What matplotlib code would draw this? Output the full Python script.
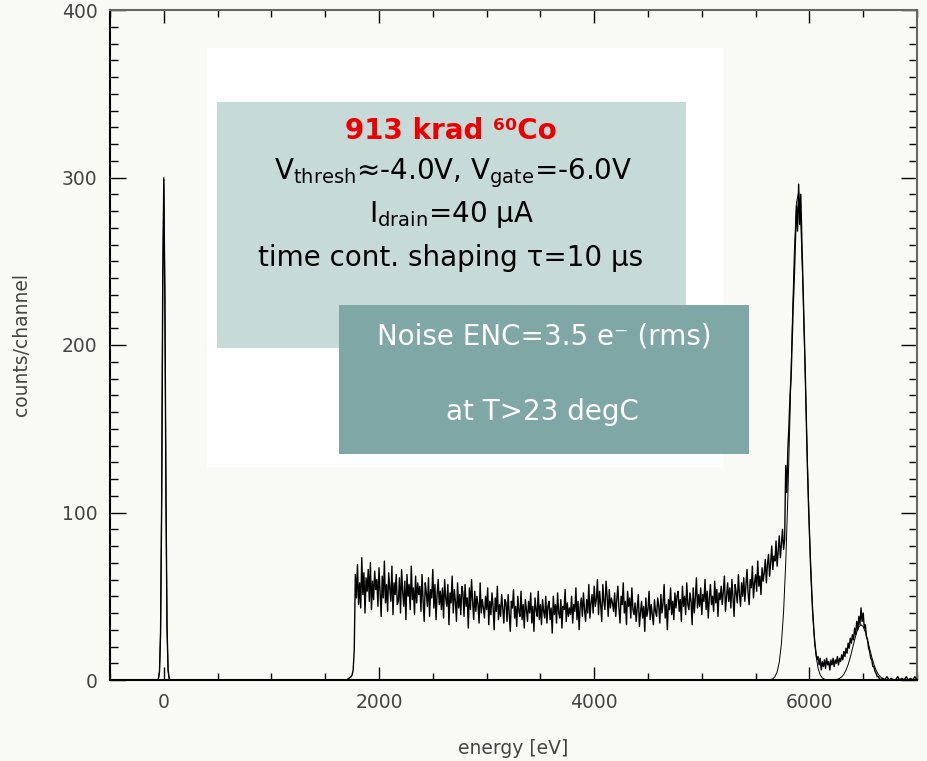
import numpy as np
import matplotlib
matplotlib.use('Agg')
import matplotlib.pyplot as plt
from matplotlib.patches import Rectangle
from matplotlib.ticker import MultipleLocator

plt.rcParams['font.family'] = ['DejaVu Sans']
plt.rcParams['mathtext.default'] = 'regular'

# ---- spectrum data (counts/channel vs energy in eV) ----
# pedestal / noise peak at 0 eV
zero_e = [-500, -60, -50, -40, -30, -20, -10, 0, 10, 20, 30, 40, 50, 60, 1700]
zero_counts = [0, 0, 1, 5, 28, 104, 236, 299, 228, 112, 31, 6, 1, 0, 0]

# shoulder onset near 1.75 keV
onset_e = [1720, 1740, 1750, 1760, 1770]
onset_counts = [1, 2, 3, 6, 18]

# flat shelf, 10 eV bins from 1780 to 5770 eV
shelf_start, shelf_step = 1780, 10
shelf_counts = [
    63, 49, 69, 45, 58, 43, 73, 51, 64, 40, 61, 53, 66, 47, 70, 42, 59, 48, 65, 54,
    60, 44, 67, 52, 38, 62, 49, 71, 46, 57, 41, 64, 55, 47, 68, 39, 58, 51, 63, 45,
    47, 61, 40, 66, 53, 44, 59, 36, 63, 50, 57, 42, 68, 48, 55, 39, 62, 46, 58, 51,
    56, 41, 63, 47, 35, 58, 52, 44, 61, 38, 54, 49, 66, 43, 57, 36, 51, 60, 45, 53,
    42, 55, 37, 60, 49, 44, 57, 33, 52, 46, 62, 40, 54, 47, 35, 58, 43, 51, 39, 56,
    52, 38, 57, 44, 49, 31, 55, 42, 60, 47, 36, 53, 41, 50, 45, 34, 58, 40, 48, 43,
    37, 50, 42, 55, 33, 47, 39, 52, 44, 30, 49, 41, 56, 36, 45, 38, 51, 43, 34, 48,
    46, 35, 51, 40, 29, 47, 43, 54, 37, 44, 32, 50, 41, 38, 53, 36, 45, 31, 48, 42,
    35, 47, 40, 52, 34, 44, 29, 49, 42, 38, 53, 36, 45, 33, 48, 41, 37, 50, 34, 44,
    47, 36, 43, 28, 50, 39, 45, 34, 52, 40, 37, 48, 31, 44, 42, 54, 35, 46, 38, 43,
    39, 50, 34, 45, 41, 55, 36, 47, 30, 44, 49, 38, 52, 42, 35, 48, 40, 57, 37, 46,
    51, 40, 56, 44, 48, 60, 39, 53, 45, 35, 57, 47, 42, 59, 50, 38, 54, 43, 49, 46,
    41, 52, 38, 48, 56, 43, 34, 50, 45, 58, 40, 47, 33, 53, 44, 49, 37, 55, 42, 39,
    46, 35, 43, 51, 32, 40, 47, 37, 44, 29, 49, 38, 42, 53, 36, 45, 39, 33, 48, 41,
    38, 49, 44, 34, 51, 40, 46, 57, 37, 45, 30, 48, 42, 55, 39, 47, 36, 52, 43, 50,
    53, 41, 48, 35, 56, 44, 50, 39, 58, 45, 42, 52, 47, 33, 55, 40, 49, 61, 43, 51,
    44, 55, 39, 51, 47, 60, 42, 53, 37, 49, 57, 45, 50, 41, 59, 46, 54, 38, 52, 48,
    56, 45, 53, 62, 41, 50, 58, 47, 55, 43, 60, 49, 38, 57, 52, 46, 63, 51, 44, 58,
    50, 61, 47, 57, 66, 52, 45, 60, 55, 68, 49, 58, 63, 53, 71, 56, 62, 51, 67, 59,
    64, 72, 58, 69, 75, 62, 70, 80, 66, 74, 71, 83, 68, 77, 86, 73, 81, 90, 78, 84,
]

# Mn K-alpha / K-beta region, 10 eV bins from 5780 to 6660 eV
peak_start, peak_step = 5780, 10
peak_counts = [
    128, 112, 138, 152, 170, 181, 203, 224, 241,
    262, 283, 268, 296, 272, 290, 262, 238, 214, 188,
    160, 131, 108, 89, 70, 55, 41, 31, 22, 17,
    12, 14, 9, 13, 6, 11, 8, 12, 7, 13,
    9, 11, 6, 12, 9, 13, 8, 12, 10, 14,
    9, 13, 11, 15, 12, 17, 14, 19, 16, 22,
    19, 25, 22, 27, 24, 31, 27, 35, 30, 38,
    33, 43, 35, 40, 31, 33, 26, 24, 19, 17,
    13, 12, 8, 8, 5, 4, 2, 2, 1, 0,
]

# flat tail up to 7 keV
tail_e = [6680, 6700, 6720, 6740, 6760, 6780, 6800, 6820, 6840, 6860,
          6880, 6900, 6920, 6940, 6960, 6980, 7000]
tail_counts = [1, 0, 2, 0, 1, 0, 0, 2, 0, 1, 0, 2, 0, 1, 0, 2, 0]

# fitted lines (thin curves)
fit0_e = [-50, -40, -30, -20, -10, 0, 10, 20, 30, 40, 50]
fit0_counts = [0.5, 5, 30, 108, 232, 300, 232, 108, 30, 5, 0.5]

fit_start, fit_step = 5600, 20
fit_counts = [
    0.0, 0.1, 0.3, 0.7, 2.0, 4.8, 10.7, 21.7, 40.7, 69.9,
    110.0, 158.9, 210.5, 255.8, 285.0, 291.2, 273.0, 234.6, 184.9, 133.7,
    88.7, 53.9, 30.1, 15.4, 7.2, 3.1, 1.2, 0.45, 0.1, 0.0,
    0.0, 0.08, 0.2, 0.45, 0.94, 1.85, 3.4, 5.8, 9.2, 13.6,
    18.7, 24.0, 28.6, 31.8, 33.0, 31.8, 28.6, 24.0, 18.7, 13.6,
    9.2, 5.8, 3.4, 1.85, 0.94, 0.45, 0.2, 0.08, 0.0,
]

shelf_e = shelf_start + shelf_step * np.arange(len(shelf_counts))
peak_e = peak_start + peak_step * np.arange(len(peak_counts))
fit_e = fit_start + fit_step * np.arange(len(fit_counts))

energy = np.concatenate([zero_e, onset_e, shelf_e, peak_e, tail_e])
counts = np.concatenate([zero_counts, onset_counts, shelf_counts, peak_counts, tail_counts])

bg = '#f9faf5'
W, H = 927, 761


def fx(x):
    return x / W


def fy(y):
    return 1 - y / H


fig = plt.figure(figsize=(W / 100, H / 100), dpi=100)
fig.patch.set_facecolor(bg)
ax = fig.add_axes([fx(110), fy(680), (917 - 110) / W, (680 - 10) / H])
ax.set_facecolor(bg)

ax.plot(energy, counts, color='black', lw=1.0, zorder=3)
ax.plot(fit0_e, fit0_counts, color='black', lw=0.7, zorder=2)
ax.plot(fit_e, fit_counts, color='black', lw=0.7, zorder=2)

ax.set_xlim(-500, 7000)
ax.set_ylim(0, 400)
ax.xaxis.set_major_locator(MultipleLocator(2000))
ax.xaxis.set_minor_locator(MultipleLocator(500))
ax.yaxis.set_major_locator(MultipleLocator(100))
ax.yaxis.set_minor_locator(MultipleLocator(10))
ax.tick_params(axis='x', which='major', direction='in', length=9.5, width=1.0,
               top=True, pad=9, labelsize=13.5, labelcolor='#444444')
ax.tick_params(axis='x', which='minor', direction='in', length=4.7, width=1.0, top=True)
ax.tick_params(axis='y', which='major', direction='in', length=11.5, width=1.0,
               right=True, pad=9, labelsize=13.5, labelcolor='#444444')
ax.tick_params(axis='y', which='minor', direction='in', length=5.8, width=1.0, right=True)
for side in ['left', 'bottom']:
    ax.spines[side].set_linewidth(1.5)
    ax.spines[side].set_color('black')
for side in ['top', 'right']:
    ax.spines[side].set_linewidth(1.5)
    ax.spines[side].set_color('#666666')

ax.set_xlabel('energy [eV]', fontsize=13.5, color='#444444', labelpad=20)
ax.set_ylabel('counts/channel', fontsize=13.5, color='#444444', labelpad=22)

# annotation boxes
def box(x0, y0, x1, y1, color):
    fig.add_artist(Rectangle((fx(x0), fy(y1)), (x1 - x0) / W, (y1 - y0) / H,
                             transform=fig.transFigure, facecolor=color,
                             edgecolor='none', zorder=5))

box(207, 48, 723, 467, 'white')
box(217, 102, 686, 348, '#c6dbd8')
box(339, 305, 749, 454, '#7ea7a5')

fig.text(fx(451), fy(131), '913 krad ⁶⁰Co', color='#ee0000', fontsize=20,
         fontweight='bold', ha='center', va='center', zorder=6)
fig.text(fx(453), fy(173), r'V$_{thresh}$≈-4.0V, V$_{gate}$=-6.0V', color='black',
         fontsize=20, ha='center', va='center', zorder=6)
fig.text(fx(451), fy(215), r'I$_{drain}$=40 μA', color='black', fontsize=20,
         ha='center', va='center', zorder=6)
fig.text(fx(451), fy(258), 'time cont. shaping τ=10 μs', color='black', fontsize=20,
         ha='center', va='center', zorder=6)
fig.text(fx(544), fy(336), 'Noise ENC=3.5 e⁻ (rms)', color='white', fontsize=20,
         ha='center', va='center', zorder=6)
fig.text(fx(542), fy(412), 'at T>23 degC', color='white', fontsize=20,
         ha='center', va='center', zorder=6)

fig.savefig('out.png', dpi=100, facecolor=bg)
